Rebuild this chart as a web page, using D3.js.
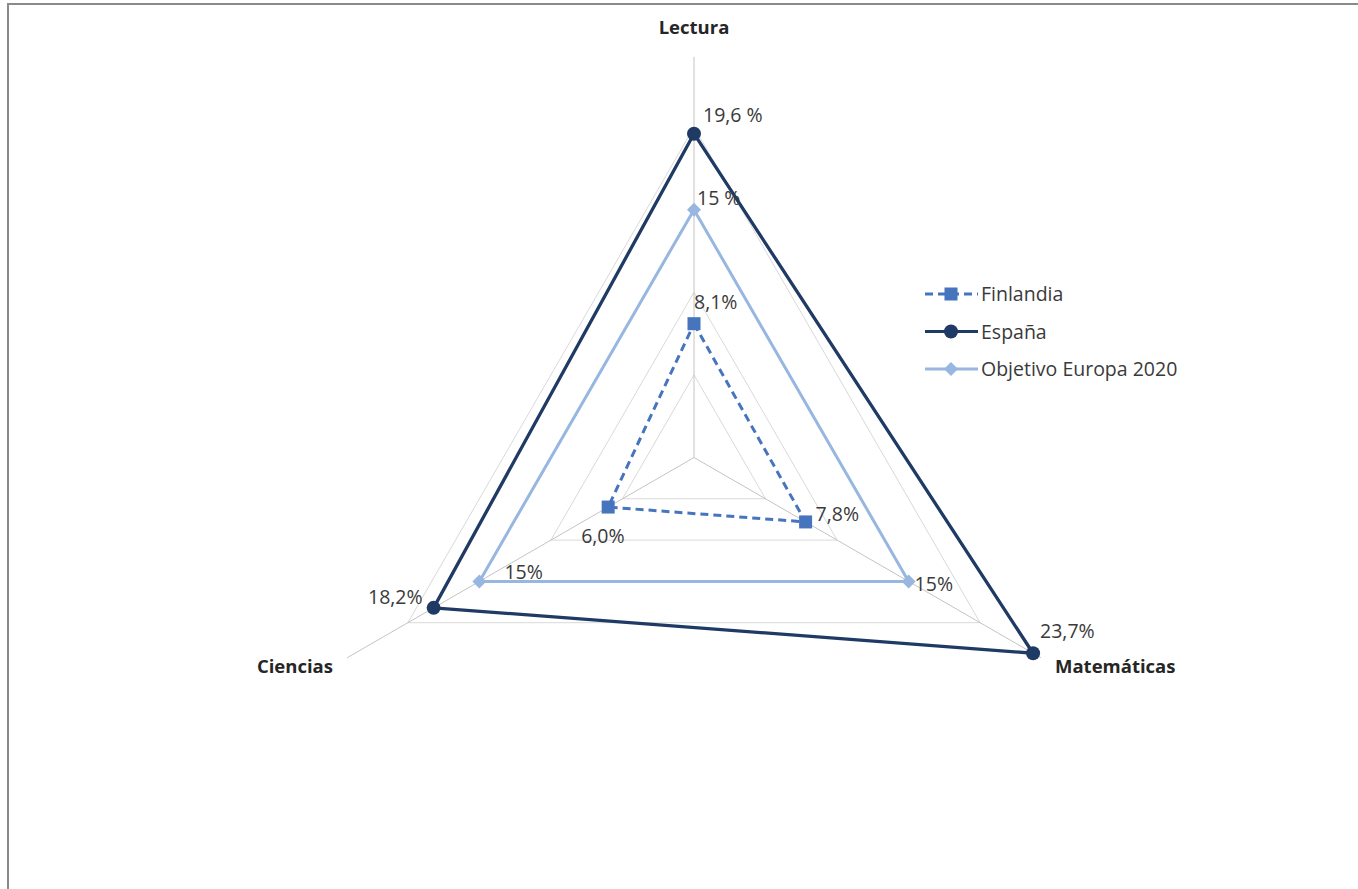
<!DOCTYPE html>
<html><head><meta charset="utf-8">
<script src="https://cdn.jsdelivr.net/npm/d3@7"></script>
<style>
html,body{margin:0;padding:0;background:#fff;}
svg{display:block;font-family:"Open Sans",Lato,sans-serif;}
</style></head>
<body>
<svg id="chart" width="1358" height="889"></svg>
<script>
// ---- data ----
const axesNames = ["Lectura", "Matemáticas", "Ciencias"];
const finlandia = [8.1, 7.8, 6.0];
const espana = [19.6, 23.7, 18.2];
const objetivo = [15, 15, 15];
const finlandiaLabels = ["8,1%", "7,8%", "6,0%"];
const espanaLabels = ["19,6 %", "23,7%", "18,2%"];
const objetivoLabels = ["15 %", "15%", "15%"];
const seriesNames = ["Finlandia", "España", "Objetivo Europa 2020"];
const gridTicks = [5, 10, 15, 20];
const scaleMax = 25;
const axisEnd = 24.25;

// ---- layout ----
const cx = 694, cy = 457.5;
const svg = d3.select("#chart");
const r = d3.scaleLinear().domain([0, scaleMax]).range([0, 413]);
const ang = d3.scaleLinear().domain([0, axesNames.length]).range([0, 2 * Math.PI]);
const pt = (v, i) => [cx + r(v) * Math.sin(ang(i)), cy - r(v) * Math.cos(ang(i))];

const colors = {"Finlandia": "#4675BE", "España": "#1F3A64", "Objetivo Europa 2020": "#97B7E0"};

// border
svg.append("path").attr("d", "M8,889V4H1358").attr("fill", "none")
  .attr("stroke", "#8a8a8a").attr("stroke-width", 2);

// grid rings
const line = d3.line();
gridTicks.forEach(t => {
  svg.append("path")
    .attr("d", line(axesNames.map((_, i) => pt(t, i))) + "Z")
    .attr("fill", "none").attr("stroke", "#d9d9d9").attr("stroke-width", 1);
});
// spokes
axesNames.forEach((_, i) => {
  const [x, y] = pt(axisEnd, i);
  svg.append("line").attr("x1", cx).attr("y1", cy).attr("x2", x).attr("y2", y)
    .attr("stroke", "#c4c4c4").attr("stroke-width", 1);
});

// series
function drawSeries(name, vals) {
  const c = colors[name];
  const p = svg.append("path")
    .attr("d", line(vals.map((v, i) => pt(v, i))) + "Z")
    .attr("fill", "none").attr("stroke", c).attr("stroke-width", name === "España" ? 3.3 : 3)
    .attr("stroke-linejoin", "round");
  if (name === "Finlandia") p.attr("stroke-dasharray", "8,5");
  vals.forEach((v, i) => drawMarker(name, pt(v, i)));
}
function drawMarker(name, [x, y], g) {
  g = g || svg;
  const c = colors[name];
  if (name === "Finlandia") {
    g.append("rect").attr("x", x - 6.5).attr("y", y - 6.5).attr("width", 13).attr("height", 13).attr("fill", c);
  } else if (name === "España") {
    g.append("circle").attr("cx", x).attr("cy", y).attr("r", 7).attr("fill", c);
  } else {
    g.append("path").attr("d", `M${x},${y - 7}L${x + 7},${y}L${x},${y + 7}L${x - 7},${y}Z`).attr("fill", c);
  }
}
drawSeries("Objetivo Europa 2020", objetivo);
drawSeries("España", espana);
drawSeries("Finlandia", finlandia);

// data labels
const labelStyle = sel => sel.attr("font-size", 19.5).attr("fill", "#3a3a3a");
const labelOffsets = {
  "Finlandia": [[0, -15, "start"], [10, -1, "start"], [-27, 36, "start"]],
  "España": [[9, -12, "start"], [7, -15, "start"], [-11, -4, "end"]],
  "Objetivo Europa 2020": [[3, -5, "start"], [6, 10, "start"], [25, -2, "start"]]
};
function drawLabels(name, vals, labels) {
  vals.forEach((v, i) => {
    const [x, y] = pt(v, i);
    const [dx, dy, anchor] = labelOffsets[name][i];
    svg.append("text").attr("x", x + dx).attr("y", y + dy).attr("text-anchor", anchor)
      .text(labels[i]).call(labelStyle);
  });
}
drawLabels("Finlandia", finlandia, finlandiaLabels);
drawLabels("España", espana, espanaLabels);
drawLabels("Objetivo Europa 2020", objetivo, objetivoLabels);

// axis labels
const axisLabelPos = [[0, 34, "middle"], [1055, 673, "start"], [333, 673, "end"]];
axesNames.forEach((n, i) => {
  const [x, y, anchor] = axisLabelPos[i];
  svg.append("text").attr("x", i === 0 ? cx : x).attr("y", y).attr("text-anchor", anchor)
    .attr("font-size", 18.5).attr("font-weight", "bold").attr("fill", "#262626").text(n);
});

// legend
const legY = d3.scalePoint().domain(seriesNames).range([294, 369]);
seriesNames.forEach(n => {
  const y = legY(n);
  const g = svg.append("g");
  const l = g.append("line").attr("x1", 925).attr("x2", 978).attr("y1", y).attr("y2", y)
    .attr("stroke", colors[n]).attr("stroke-width", 3);
  if (n === "Finlandia") l.attr("stroke-dasharray", "8,5");
  drawMarker(n, [951, y], g);
  g.append("text").attr("x", 981).attr("y", y + 7).attr("font-size", 19.5)
    .attr("fill", "#3a3a3a").text(n);
});
</script>
</body></html>
